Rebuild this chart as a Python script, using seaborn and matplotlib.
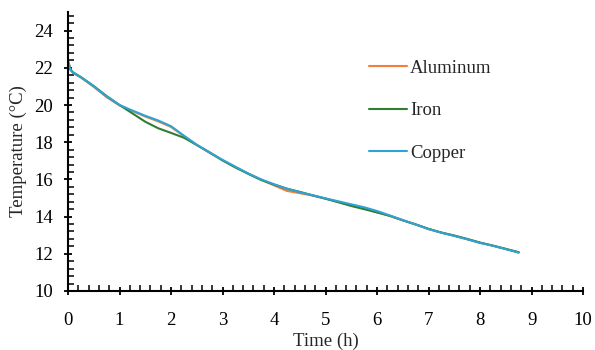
import pandas as pd
import seaborn as sns
import matplotlib.pyplot as plt
from matplotlib.ticker import MultipleLocator

# time in hours, temperatures
time_h = [0, 0.05, 0.1, 0.25, 0.5, 0.75, 1.0, 1.25, 1.5, 1.75, 2.0, 2.25, 2.5,
          2.75, 3.0, 3.25, 3.5, 3.75, 4.0, 4.25, 4.5, 4.75, 5.0, 5.25, 5.5,
          5.75, 6.0, 6.25, 6.5, 6.75, 7.0, 7.25, 7.5, 7.75, 8.0, 8.25, 8.5, 8.75]

aluminum = [22.35, 21.9, 21.72, 21.48, 20.98, 20.42, 19.98, 19.68, 19.38, 19.12,
            18.82, 18.33, 17.85, 17.43, 17.03, 16.66, 16.3, 15.98, 15.68, 15.38,
            15.26, 15.13, 14.97, 14.79, 14.6, 14.44, 14.25, 14.03, 13.8, 13.57,
            13.33, 13.14, 12.97, 12.78, 12.6, 12.43, 12.26, 12.08]
iron = [22.35, 21.9, 21.75, 21.5, 21.02, 20.48, 20.0, 19.55, 19.1, 18.75,
        18.5, 18.24, 17.85, 17.45, 17.02, 16.64, 16.3, 15.97, 15.72, 15.5,
        15.33, 15.14, 14.96, 14.77, 14.57, 14.4, 14.22, 14.04, 13.8, 13.58,
        13.34, 13.14, 12.98, 12.8, 12.6, 12.44, 12.26, 12.08]
copper = [22.35, 21.88, 21.73, 21.5, 21.0, 20.46, 20.0, 19.7, 19.42, 19.17,
          18.86, 18.35, 17.86, 17.45, 17.05, 16.68, 16.32, 16.0, 15.74, 15.5,
          15.31, 15.15, 14.98, 14.82, 14.66, 14.5, 14.3, 14.06, 13.81, 13.58,
          13.33, 13.13, 12.96, 12.78, 12.58, 12.43, 12.25, 12.06]

df = pd.DataFrame({'Time': time_h, 'Aluminum': aluminum, 'Iron': iron, 'Copper': copper})
long = df.melt(id_vars='Time', var_name='Metal', value_name='Temperature')

sns.set_theme(style="ticks")
plt.rcParams['font.family'] = ['Liberation Serif', 'DejaVu Serif']

fig = plt.figure(figsize=(5.95, 3.5), dpi=100)
ax = fig.add_axes([0.1143, 0.1686, 0.8657, 0.7971])

palette = {'Aluminum': '#f47c3c', 'Iron': '#2e7d32', 'Copper': '#2ea3d6'}
sns.lineplot(data=long, x='Time', y='Temperature', hue='Metal', palette=palette,
             linewidth=1.5, ax=ax)

ax.set_xlim(0, 10)
ax.set_ylim(10, 25)
ax.xaxis.set_major_locator(MultipleLocator(1))
ax.xaxis.set_minor_locator(MultipleLocator(0.2))
ax.yaxis.set_major_locator(MultipleLocator(2))
ax.yaxis.set_minor_locator(MultipleLocator(0.4))
ax.set_yticks([10, 12, 14, 16, 18, 20, 22, 24])
ax.tick_params(which='major', direction='inout', length=6, width=1.3, labelsize=13.5, colors='black')
ax.tick_params(which='minor', direction='in', length=4, width=1.3)
ax.tick_params(axis='x', pad=12)
ax.tick_params(axis='y', pad=8)

for side in ['top', 'right']:
    ax.spines[side].set_visible(False)
for side in ['left', 'bottom']:
    ax.spines[side].set_linewidth(1.5)
    ax.spines[side].set_color('black')

ax.set_xlabel('Time (h)', fontsize=13.5, labelpad=3)
ax.set_ylabel('Temperature (°C)', fontsize=13.5, labelpad=5)

leg = ax.legend(title=None, frameon=False, fontsize=13.5, loc='upper left',
                bbox_to_anchor=(0.552, 0.89), labelspacing=1.35, handlelength=2.0,
                handletextpad=0.17)

fig.savefig('out.png', dpi=100)
